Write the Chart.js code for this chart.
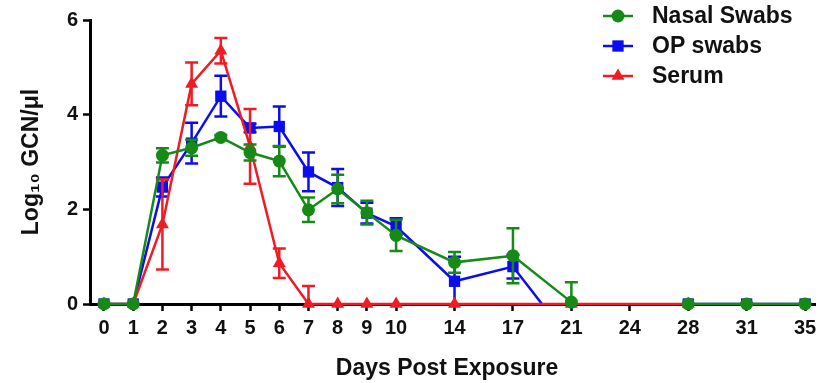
<!DOCTYPE html>
<html>
<head>
<meta charset="utf-8">
<script src="https://cdn.jsdelivr.net/npm/chart.js@4.4.1/dist/chart.umd.min.js"></script>
<style>
  html, body { margin: 0; padding: 0; background: #fff; }
  #wrap { width: 826px; height: 383px; }
</style>
</head>
<body>
<div id="wrap"><canvas id="chart" width="826" height="383"></canvas></div>
<script>
// days sampled (x axis is not to scale: 0..10 one slot each, later days two slots)
const days = [0, 1, 2, 3, 4, 5, 6, 7, 8, 9, 10, 14, 17, 21, 24, 28, 31, 35]

// log10 GCN/ul, mean and error (null = no sample)
const nasal    = [0, 0, 3.14, 3.30, 3.52, 3.20, 3.02, 1.99, 2.43, 1.93, 1.45, 0.88, 1.02, 0.04, null, 0, 0, 0]
const nasalErr = [0, 0, 0.15, 0.17, 0.05, 0.17, 0.32, 0.26, 0.30, 0.25, 0.33, 0.22, 0.58, 0.42, null, 0, 0, 0]
const op       = [0, 0, 2.47, 3.40, 4.39, 3.72, 3.75, 2.79, 2.46, 1.92, 1.64, 0.48, 0.79, -0.80, null, 0, 0, 0]
const opErr    = [0, 0, 0.20, 0.43, 0.43, 0.09, 0.42, 0.41, 0.39, 0.22, 0.17, 0.52, 0.25, 0, null, 0, 0, 0]
const serum    = [0, 0, 1.68, 4.65, 5.35, 3.33, 0.86, 0, 0, 0, 0, 0, null, 0, null, 0, null, null]
const serumErr = [0, 0, 0.95, 0.45, 0.27, 0.79, 0.31, 0.38, 0, 0, 0, 0, null, 0, null, 0, null, null]

const yTicks = [0, 2, 4, 6]

// slot on the x axis for each day
const slot = i => (i <= 10 ? i : 10 + 2 * (i - 10))
const slots = days.map((d, i) => slot(i))

const GREEN = '#168a16'
const BLUE = '#0c0cf0'
const RED = '#ee1c24'
const FONT = '"Liberation Sans", Arial, sans-serif'

const toPoints = arr => arr.map((v, i) => ({ x: slots[i], y: v }))

const errorBars = {
    id: 'errorBars',
    afterDatasetDraw(chart, args) {
        const ds = chart.data.datasets[args.index]
        if (!ds.err) return
        const { ctx, chartArea: a } = chart
        const xs = chart.scales.x, ys = chart.scales.y
        ctx.save()
        ctx.beginPath()
        ctx.rect(a.left, a.top - 10, a.right - a.left, a.bottom - a.top + 10)
        ctx.clip()
        ctx.strokeStyle = ds.borderColor
        ctx.lineWidth = 2.5
        ds.data.forEach((p, i) => {
            const e = ds.err[i]
            if (p.y == null || !e) return
            const x = xs.getPixelForValue(p.x)
            const yt = ys.getPixelForValue(p.y + e)
            const yb = ys.getPixelForValue(p.y - e)
            ctx.beginPath()
            ctx.moveTo(x, yt); ctx.lineTo(x, yb)
            ctx.moveTo(x - 6.5, yt); ctx.lineTo(x + 6.5, yt)
            ctx.moveTo(x - 6.5, yb); ctx.lineTo(x + 6.5, yb)
            ctx.stroke()
        })
        ctx.restore()
    }
}

const extras = {
    id: 'extras',
    afterDraw(chart) {
        const ctx = chart.ctx
        ctx.save()
        // x axis title
        ctx.font = 'bold 23px ' + FONT
        ctx.fillStyle = '#111'
        ctx.textAlign = 'center'
        ctx.textBaseline = 'middle'
        ctx.fillText('Days Post Exposure', 447, 369)
        // legend
        const rows = [16, 46, 76]
        chart.data.datasets.forEach((ds, i) => {
            const y = rows[i]
            ctx.strokeStyle = ds.borderColor
            ctx.lineWidth = 2.5
            ctx.beginPath()
            ctx.moveTo(603, y); ctx.lineTo(633, y)
            ctx.stroke()
            ctx.fillStyle = ds.backgroundColor
            Chart.helpers.drawPoint(ctx, { pointStyle: ds.pointStyle, radius: ds.pointRadius, borderWidth: 0 }, 618, y)
            ctx.fillStyle = '#111'
            ctx.textAlign = 'left'
            ctx.font = 'bold 23px ' + FONT
            ctx.fillText(ds.label, 652, y + 1)
        })
        ctx.restore()
    }
}

const clipBox = { left: 12, top: 12, right: 12, bottom: 12 }

new Chart(document.getElementById('chart'), {
    type: 'line',
    data: {
        datasets: [
            {
                label: 'Nasal Swabs', data: toPoints(nasal), err: nasalErr, order: 0,
                borderColor: GREEN, backgroundColor: GREEN, borderWidth: 2.5,
                pointStyle: 'circle', pointRadius: 6.5, pointBorderWidth: 0, spanGaps: false,
                clip: clipBox
            },
            {
                label: 'OP swabs', data: toPoints(op), err: opErr, order: 2,
                borderColor: BLUE, backgroundColor: BLUE, borderWidth: 2.5,
                pointStyle: 'rect', pointRadius: 8, pointBorderWidth: 0, spanGaps: true,
                clip: { left: 12, top: 12, right: 12, bottom: 1 }
            },
            {
                label: 'Serum', data: toPoints(serum), err: serumErr, order: 1,
                borderColor: RED, backgroundColor: RED, borderWidth: 2.5,
                pointStyle: 'triangle', pointRadius: 7.5, pointBorderWidth: 0, spanGaps: true,
                clip: clipBox
            }
        ]
    },
    options: {
        responsive: false,
        animation: false,
        layout: { padding: { top: 20, right: 11, left: 0, bottom: 0 } },
        plugins: { legend: { display: false }, tooltip: { enabled: false } },
        elements: { line: { tension: 0 } },
        scales: {
            x: {
                type: 'linear',
                min: -0.479,
                max: 24.34,
                afterBuildTicks: s => { s.ticks = slots.map(v => ({ value: v })) },
                afterFit: s => { s.height = 79 },
                border: { width: 3, color: '#000' },
                grid: { drawOnChartArea: false, tickLength: 7, tickWidth: 2.5, tickColor: '#000' },
                ticks: {
                    autoSkip: false, maxRotation: 0, padding: 5, color: '#111',
                    font: { family: FONT, size: 20, weight: 'bold' },
                    callback: v => { const i = slots.indexOf(v); return i < 0 ? '' : String(days[i]) }
                }
            },
            y: {
                min: 0,
                max: 6,
                afterBuildTicks: s => { s.ticks = yTicks.map(v => ({ value: v })) },
                afterFit: s => { s.width = 90 },
                border: { width: 3, color: '#000' },
                grid: { drawOnChartArea: false, tickLength: 7, tickWidth: 2.5, tickColor: '#000' },
                ticks: { padding: 5, color: '#111', font: { family: FONT, size: 20, weight: 'bold' } },
                title: {
                    display: true, text: 'Log₁₀ GCN/μl', color: '#111',
                    font: { family: FONT, size: 23, weight: 'bold' },
                    padding: { top: 18, bottom: 0 }
                }
            }
        }
    },
    plugins: [errorBars, extras]
})
</script>
</body>
</html>
